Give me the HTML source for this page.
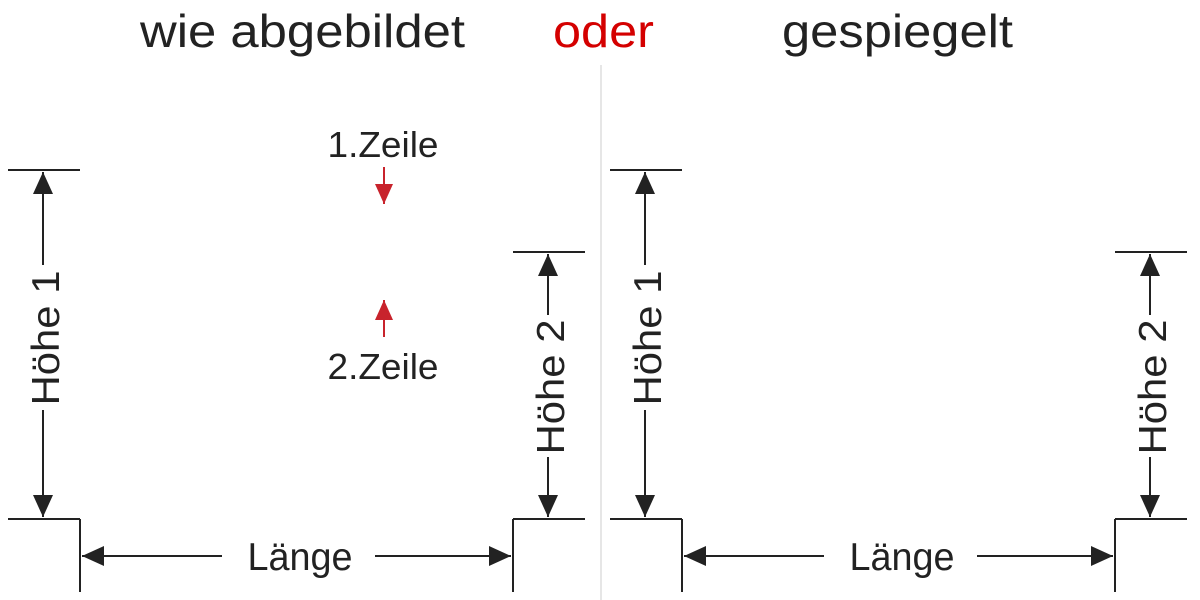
<!DOCTYPE html>
<html><head><meta charset="utf-8"><style>
html,body{margin:0;padding:0;background:#fff;}
svg{display:block;font-family:"Liberation Sans",Arial,sans-serif;}
</style></head><body>
<svg width="1200" height="600" viewBox="0 0 1200 600" xmlns="http://www.w3.org/2000/svg">
<defs>
<marker id="a" viewBox="0 0 10 10" refX="10" refY="5" markerWidth="22" markerHeight="20" markerUnits="userSpaceOnUse" orient="auto" preserveAspectRatio="none"><path d="M0,0 L10,5 L0,10 z" fill="#222"/></marker>
<marker id="r" viewBox="0 0 10 10" refX="10" refY="5" markerWidth="20" markerHeight="18" markerUnits="userSpaceOnUse" orient="auto" preserveAspectRatio="none"><path d="M0,0 L10,5 L0,10 z" fill="#c8232c"/></marker>
</defs>
<rect width="1200" height="600" fill="#fff"/>
<text x="140" y="47" font-size="46" fill="#222" textLength="325" lengthAdjust="spacingAndGlyphs">wie abgebildet</text>
<text x="553" y="47" font-size="46" fill="#d40000" textLength="101" lengthAdjust="spacingAndGlyphs">oder</text>
<text x="782" y="47" font-size="46" fill="#222" textLength="231" lengthAdjust="spacingAndGlyphs">gespiegelt</text>
<line x1="601" y1="65" x2="601" y2="600" stroke="#ddd" stroke-width="1.5"/>

<g id="L" stroke="#222" stroke-width="2" fill="none">
<line x1="8" y1="170" x2="80" y2="170"/>
<line x1="8" y1="519" x2="80" y2="519"/>
<line x1="80" y1="519" x2="80" y2="592"/>
<line x1="43" y1="265" x2="43" y2="172" marker-end="url(#a)"/>
<line x1="43" y1="410" x2="43" y2="517" marker-end="url(#a)"/>
<line x1="513" y1="252" x2="585" y2="252"/>
<line x1="513" y1="519" x2="585" y2="519"/>
<line x1="513" y1="519" x2="513" y2="592"/>
<line x1="548" y1="315" x2="548" y2="254" marker-end="url(#a)"/>
<line x1="548" y1="457" x2="548" y2="517" marker-end="url(#a)"/>
<line x1="222" y1="556" x2="82" y2="556" marker-end="url(#a)"/>
<line x1="375" y1="556" x2="511" y2="556" marker-end="url(#a)"/>
</g>
<g font-size="39" fill="#222" text-anchor="middle">
<text transform="translate(59,338) rotate(-90)" textLength="135" lengthAdjust="spacingAndGlyphs">Höhe 1</text>
<text transform="translate(564,387) rotate(-90)" textLength="135" lengthAdjust="spacingAndGlyphs">Höhe 2</text>
<text x="300" y="570" textLength="105" lengthAdjust="spacingAndGlyphs">Länge</text>
</g>
<use href="#L" x="602"/>
<g font-size="39" fill="#222" text-anchor="middle">
<text transform="translate(661,338) rotate(-90)" textLength="135" lengthAdjust="spacingAndGlyphs">Höhe 1</text>
<text transform="translate(1166,387) rotate(-90)" textLength="135" lengthAdjust="spacingAndGlyphs">Höhe 2</text>
<text x="902" y="570" textLength="105" lengthAdjust="spacingAndGlyphs">Länge</text>
</g>

<text x="383" y="157" font-size="36" fill="#222" text-anchor="middle" textLength="111" lengthAdjust="spacingAndGlyphs">1.Zeile</text>
<text x="383" y="379" font-size="36" fill="#222" text-anchor="middle" textLength="111" lengthAdjust="spacingAndGlyphs">2.Zeile</text>
<line x1="384" y1="167" x2="384" y2="204" stroke="#c8232c" stroke-width="2" marker-end="url(#r)"/>
<line x1="384" y1="337" x2="384" y2="300" stroke="#c8232c" stroke-width="2" marker-end="url(#r)"/>
</svg>
</body></html>
